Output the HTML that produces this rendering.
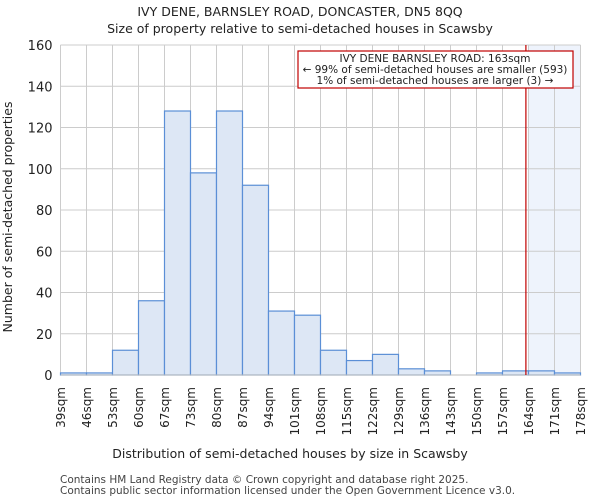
<!DOCTYPE html>
<html><head><meta charset="utf-8"><style>
html,body{margin:0;padding:0;background:#fff}
svg{display:block;font-family:"DejaVu Sans","Liberation Sans",sans-serif}
</style></head><body>
<svg id="chart" width="600" height="500">
<text x="300" y="16" text-anchor="middle" font-size="12.5" fill="#222">IVY DENE, BARNSLEY ROAD, DONCASTER, DN5 8QQ</text>
<text x="300" y="33" text-anchor="middle" font-size="12.5" fill="#222">Size of property relative to semi-detached houses in Scawsby</text>
<g id="plot"></g>
<text x="290" y="458" text-anchor="middle" font-size="12.5" fill="#222">Distribution of semi-detached houses by size in Scawsby</text>
<text transform="translate(12,217) rotate(-90)" text-anchor="middle" font-size="12.5" fill="#222">Number of semi-detached properties</text>
<text x="60" y="483" font-size="10.5" fill="#444">Contains HM Land Registry data © Crown copyright and database right 2025.</text>
<text x="60" y="494" font-size="10.5" fill="#444">Contains public sector information licensed under the Open Government Licence v3.0.</text>
</svg>
<script>
const binLabels=["39sqm","46sqm","53sqm","60sqm","67sqm","73sqm","80sqm","87sqm","94sqm","101sqm","108sqm","115sqm","122sqm","129sqm","136sqm","143sqm","150sqm","157sqm","164sqm","171sqm","178sqm"];
const counts=[1,1,12,36,128,98,128,92,31,29,12,7,10,3,2,0,1,2,2,1];
const yTicks=[0,20,40,60,80,100,120,140,160];
const propertyBinPos=17.9;
const highlightStart=18;
const NS="http://www.w3.org/2000/svg";
const L=60.5,R=580.5,T=45,B=375,yMax=160;
const nb=counts.length;
const xs=i=>L+(R-L)*i/nb;
const ys=v=>B-(B-T)*v/yMax;
const g=document.getElementById('plot');
function mk(t,a){const e=document.createElementNS(NS,t);for(const k in a)e.setAttribute(k,a[k]);g.appendChild(e);return e;}
let e=mk('rect',{x:xs(highlightStart),y:T,width:R-xs(highlightStart),height:B-T,fill:'#eef3fc'});


yTicks.forEach(v=>{
 let l=mk('line',{x1:L,x2:R,y1:ys(v),y2:ys(v),stroke:'#cccccc'});
 
 
 let t=mk('text',{x:L-8,y:ys(v)+5,'text-anchor':'end','font-size':'13',fill:'#222'});
 t.textContent=v;
 
 
});
binLabels.forEach((s,i)=>{
 let l=mk('line',{x1:xs(i),x2:xs(i),y1:T,y2:B,stroke:'#cccccc'});
 
 
 let t=mk('text',{transform:`translate(${xs(i)+4.5},387) rotate(-90)`,'text-anchor':'end','font-size':'12',fill:'#222'});
 t.textContent=s;
 
 
});
counts.forEach((v,i)=>{
 if(v<=0)return;
 let r=mk('rect',{x:xs(i),y:ys(v),width:xs(i+1)-xs(i),height:B-ys(v),fill:'#dde7f5',stroke:'#5b8fd6','stroke-width':1.2});
 
 
});
let ax=mk('line',{x1:L,x2:R,y1:B,y2:B,stroke:'#bbbbbb'});


let px=xs(propertyBinPos);
let pl=mk('line',{x1:px,x2:px,y1:T,y2:B,stroke:'#c00000','stroke-width':1.2});


let box=mk('rect',{x:298,y:51,width:275,height:37,fill:'#fff',stroke:'#c00000','stroke-width':1.2});


["IVY DENE BARNSLEY ROAD: 163sqm","← 99% of semi-detached houses are smaller (593)","1% of semi-detached houses are larger (3) →"].forEach((s,i)=>{
 let t=mk('text',{x:435,y:62+i*11,'text-anchor':'middle','font-size':'10.5',fill:'#222'});
 t.textContent=s;
 
 
});
</script>
</body></html>
